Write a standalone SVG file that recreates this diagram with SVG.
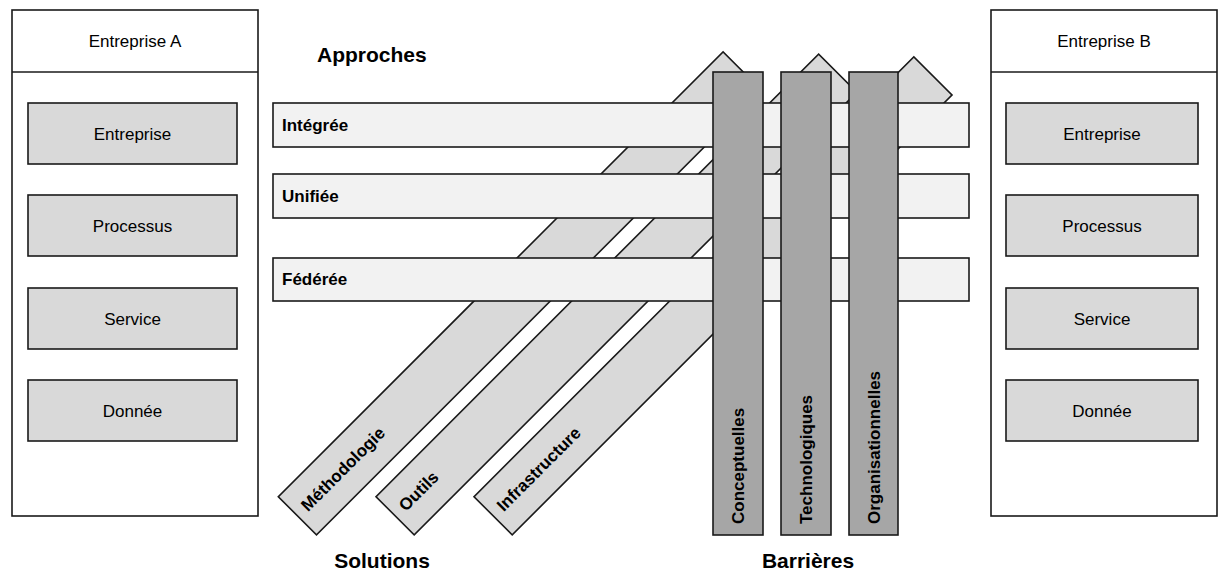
<svg xmlns="http://www.w3.org/2000/svg" width="1218" height="572" viewBox="0 0 1218 572">
<style>
text{font-family:"Liberation Sans",Arial,sans-serif;fill:#000}
.reg{font-size:17px}
.lbl{font-size:17px;font-weight:bold}
.big{font-size:21px;font-weight:bold}
.cont{fill:#fff;stroke:#1a1a1a;stroke-width:1.6}
.inner{fill:#d9d9d9;stroke:#1a1a1a;stroke-width:1.6}
.diag{fill:#d9d9d9;stroke:#1a1a1a;stroke-width:1.6}
.hbar{fill:#f2f2f2;stroke:#1a1a1a;stroke-width:1.6}
.vbar{fill:#a6a6a6;stroke:#1a1a1a;stroke-width:1.6}
</style>
<rect width="1218" height="572" fill="#fff"/>

<g id="entrepriseA">
<rect class="cont" x="12" y="10" width="246" height="506"/>
<line x1="12" y1="72" x2="258" y2="72" stroke="#1a1a1a" stroke-width="1.6"/>
<text class="reg" x="135" y="47" text-anchor="middle">Entreprise A</text>
<g id="A-entreprise"><rect class="inner" x="28" y="103" width="209" height="61"/><text class="reg" x="132.5" y="139.5" text-anchor="middle">Entreprise</text></g>
<g id="A-processus"><rect class="inner" x="28" y="195" width="209" height="61"/><text class="reg" x="132.5" y="231.5" text-anchor="middle">Processus</text></g>
<g id="A-service"><rect class="inner" x="28" y="288" width="209" height="61"/><text class="reg" x="132.5" y="324.5" text-anchor="middle">Service</text></g>
<g id="A-donnee"><rect class="inner" x="28" y="380" width="209" height="61"/><text class="reg" x="132.5" y="416.5" text-anchor="middle">Donnée</text></g>
</g>

<g id="entrepriseB">
<rect class="cont" x="991" y="10" width="226" height="506"/>
<line x1="991" y1="72" x2="1217" y2="72" stroke="#1a1a1a" stroke-width="1.6"/>
<text class="reg" x="1104" y="47" text-anchor="middle">Entreprise B</text>
<g id="B-entreprise"><rect class="inner" x="1006" y="103" width="192" height="61"/><text class="reg" x="1102" y="139.5" text-anchor="middle">Entreprise</text></g>
<g id="B-processus"><rect class="inner" x="1006" y="195" width="192" height="61"/><text class="reg" x="1102" y="231.5" text-anchor="middle">Processus</text></g>
<g id="B-service"><rect class="inner" x="1006" y="288" width="192" height="61"/><text class="reg" x="1102" y="324.5" text-anchor="middle">Service</text></g>
<g id="B-donnee"><rect class="inner" x="1006" y="380" width="192" height="61"/><text class="reg" x="1102" y="416.5" text-anchor="middle">Donnée</text></g>
</g>

<g id="solutions">
<g id="methodologie" transform="translate(278.3,496.7) rotate(-45)"><rect class="diag" x="0" y="0" width="629" height="54"/><text class="lbl" x="10" y="32">Méthodologie</text></g>
<g id="outils" transform="translate(376,496.7) rotate(-45)"><rect class="diag" x="0" y="0" width="626" height="54"/><text class="lbl" x="10" y="32">Outils</text></g>
<g id="infrastructure" transform="translate(474,496.7) rotate(-45)"><rect class="diag" x="0" y="0" width="622" height="54"/><text class="lbl" x="10" y="32">Infrastructure</text></g>
</g>

<g id="approches">
<g id="integree"><rect class="hbar" x="273" y="103" width="696" height="44"/><text class="lbl" x="282" y="131">Intégrée</text></g>
<g id="unifiee"><rect class="hbar" x="273" y="174" width="696" height="44"/><text class="lbl" x="282" y="202">Unifiée</text></g>
<g id="federee"><rect class="hbar" x="273" y="258" width="696" height="43"/><text class="lbl" x="282" y="285">Fédérée</text></g>
</g>

<g id="barrieres">
<g id="conceptuelles"><rect class="vbar" x="713" y="72" width="50" height="463"/><text class="lbl" transform="translate(744,524) rotate(-90)">Conceptuelles</text></g>
<g id="technologiques"><rect class="vbar" x="781" y="72" width="50" height="463"/><text class="lbl" transform="translate(812,524) rotate(-90)">Technologiques</text></g>
<g id="organisationnelles"><rect class="vbar" x="849" y="72" width="49" height="463"/><text class="lbl" transform="translate(879.5,524) rotate(-90)">Organisationnelles</text></g>
</g>

<g id="titles">
<text class="big" x="317" y="62">Approches</text>
<text class="big" x="382" y="568" text-anchor="middle">Solutions</text>
<text class="big" x="808" y="568" text-anchor="middle">Barrières</text>
</g>
<g id="connectors"></g>
</svg>
